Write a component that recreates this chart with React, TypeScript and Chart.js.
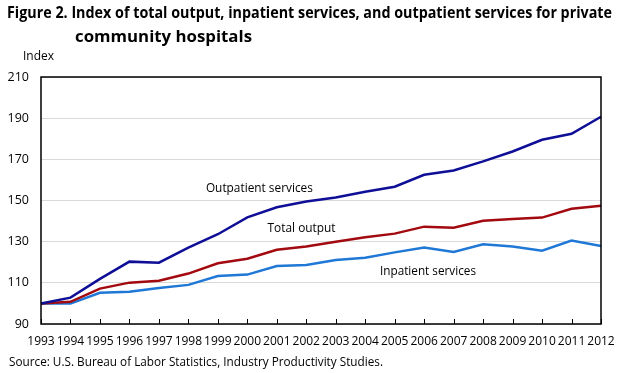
import React, { useEffect, useRef } from "react";
import { Chart, registerables } from "chart.js";

Chart.register(...registerables);

const years = [
  "1993", "1994", "1995", "1996", "1997", "1998", "1999", "2000", "2001", "2002",
  "2003", "2004", "2005", "2006", "2007", "2008", "2009", "2010", "2011", "2012",
];
const outpatient = [
  100, 102.8, 111.9, 120.3, 119.8, 127.1, 133.6, 141.8, 146.7, 149.5,
  151.5, 154.3, 156.7, 162.5, 164.6, 169.0, 173.8, 179.5, 182.4, 190.7,
];
const totalOutput = [
  100, 100.8, 107.2, 110.1, 111.0, 114.5, 119.5, 121.7, 126.1, 127.6,
  130.0, 132.1, 133.9, 137.3, 136.8, 140.2, 141.0, 141.7, 146.0, 147.5,
];
const inpatient = [
  100, 99.9, 105.2, 105.7, 107.5, 109.0, 113.3, 114.0, 118.2, 118.7,
  121.1, 122.2, 124.8, 127.1, 125.0, 128.7, 127.6, 125.6, 130.5, 127.9,
];
const yMin = 90;
const yMax = 210;
const yStep = 20;
// series label anchors in data coordinates: category index and index value
const seriesLabels = [
  { text: "Outpatient services", at: 7.41, value: 155.9, fit: 107 },
  { text: "Total output", at: 8.84, value: 136.3, fit: 68 },
  { text: "Inpatient services", at: 13.13, value: 115.4, fit: 96 },
];

const FONT = "'Open Sans', sans-serif";

let measureCtx: CanvasRenderingContext2D | null = null;
function measure(text: string, font: string): number {
  if (!measureCtx) measureCtx = document.createElement("canvas").getContext("2d");
  measureCtx!.font = font;
  return measureCtx!.measureText(text).width;
}

const framePlugin = {
  id: "frameAndLabels",
  afterDatasetsDraw(chart: any) {
    const { ctx, chartArea, scales } = chart;
    const { left, right, top, bottom } = chartArea;
    const x = scales.x;
    const y = scales.y;
    ctx.save();
    ctx.strokeStyle = "#000";
    ctx.lineWidth = 1.5;
    ctx.strokeRect(left, top, right - left, bottom - top);
    ctx.lineWidth = 1;
    ctx.beginPath();
    years.forEach((_, i) => {
      const px = Math.round(x.getPixelForValue(i)) + 0.5;
      ctx.moveTo(px, bottom);
      ctx.lineTo(px, bottom - 5);
    });
    ctx.stroke();
    ctx.fillStyle = "#000";
    const font = `13px ${FONT}`;
    ctx.font = font;
    ctx.textAlign = "center";
    ctx.textBaseline = "middle";
    seriesLabels.forEach((l) => {
      const w = ctx.measureText(l.text).width;
      const s = l.fit / w;
      const cx = x.getPixelForValue(l.at);
      const cy = y.getPixelForValue(l.value);
      ctx.save();
      ctx.translate(cx, cy);
      ctx.scale(s, 1);
      ctx.fillText(l.text, 0, 0);
      ctx.restore();
    });
    ctx.restore();
  },
};

function FitText(props: { text: string; left: number; top: number; size: number; bold?: boolean; width: number }) {
  const weight = props.bold ? "bold" : "normal";
  const font = `${weight} ${props.size}px ${FONT}`;
  const w = measure(props.text, font);
  const s = w > 0 ? props.width / w : 1;
  return (
    <div
      style={{
        position: "absolute",
        left: props.left,
        top: props.top,
        fontFamily: FONT,
        fontSize: props.size,
        fontWeight: weight as any,
        color: "#000",
        whiteSpace: "nowrap",
        lineHeight: 1,
        transform: `scaleX(${s})`,
        transformOrigin: "left top",
      }}
    >
      {props.text}
    </div>
  );
}

export default function App() {
  const ref = useRef<HTMLCanvasElement | null>(null);
  useEffect(() => {
    if (!ref.current) return;
    const chart = new Chart(ref.current, {
      type: "line",
      data: {
        labels: years,
        datasets: [
          { label: "Outpatient services", data: outpatient, borderColor: "#0e0e96", borderWidth: 2.5, pointRadius: 0, tension: 0 },
          { label: "Total output", data: totalOutput, borderColor: "#a20a10", borderWidth: 2.5, pointRadius: 0, tension: 0 },
          { label: "Inpatient services", data: inpatient, borderColor: "#1f78d6", borderWidth: 2.5, pointRadius: 0, tension: 0 },
        ],
      },
      options: {
        animation: false,
        responsive: false,
        events: [],
        layout: { padding: { left: 0, top: 77, right: 22, bottom: 0 } },
        plugins: { legend: { display: false }, tooltip: { enabled: false }, title: { display: false } },
        scales: {
          x: {
            offset: false,
            grid: { display: false, drawTicks: false },
            border: { display: false },
            ticks: { autoSkip: false, maxRotation: 0, minRotation: 0, color: "#000", font: { family: FONT, size: 12 }, padding: 10 },
            afterFit(scale: any) {
              scale.height = 49;
              scale.paddingLeft = 0;
              scale.paddingRight = 0;
            },
          },
          y: {
            min: yMin,
            max: yMax,
            grid: { color: "#d9d9d9", lineWidth: 1, drawTicks: false },
            border: { display: false },
            ticks: { stepSize: yStep, color: "#000", font: { family: FONT, size: 12.5 }, padding: 12 },
            afterFit(scale: any) {
              scale.width = 41;
              scale.paddingTop = 0;
              scale.paddingBottom = 0;
            },
          },
        },
      },
      plugins: [framePlugin],
    });
    return () => chart.destroy();
  }, []);

  return (
    <div style={{ position: "absolute", left: 0, top: 0, width: 623, height: 373, background: "#fff" }}>
      <canvas ref={ref} width={623} height={373} style={{ position: "absolute", left: 0, top: 0 }} />
      <FitText
        text="Figure 2. Index of total output, inpatient services, and outpatient services for private"
        left={7}
        top={5}
        size={15.5}
        bold
        width={605}
      />
      <FitText text="community hospitals" left={75} top={29} size={15.5} bold width={177} />
      <FitText text="Index" left={23} top={49} size={13} width={31} />
      <FitText
        text="Source: U.S. Bureau of Labor Statistics, Industry Productivity Studies."
        left={9}
        top={355}
        size={13}
        width={374}
      />
    </div>
  );
}
